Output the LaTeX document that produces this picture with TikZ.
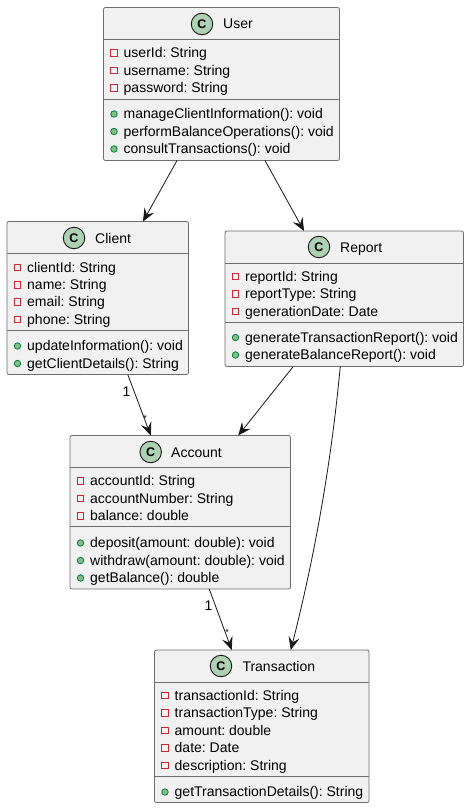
\documentclass[tikz,border=0pt]{standalone}
\usepackage{fontspec}
\setmainfont{Liberation Sans}
\frenchspacing
\usetikzlibrary{arrows.meta}
\definecolor{boxfill}{HTML}{F1F1F1}
\definecolor{ink}{HTML}{181818}
\definecolor{boxline}{HTML}{6E6E6E}
\definecolor{spot}{HTML}{ADD1B2}
\definecolor{privred}{HTML}{C82930}
\definecolor{pubfill}{HTML}{84BE84}
\definecolor{publine}{HTML}{038048}
\tikzset{
  x=1pt,y=-1pt,
  classbox/.style={draw=boxline,fill=boxfill,line width=0.8pt,rounded corners=2pt,inner sep=0pt,outer sep=0pt,anchor=north west},
  divider/.style={draw=boxline,line width=0.8pt},
  spotc/.style={circle,draw=ink,fill=spot,line width=0.9pt,minimum size=21.5pt,inner sep=0pt,font=\fontsize{12.5pt}{14pt}\selectfont\bfseries,text=black},
  title/.style={anchor=base west,inner sep=0pt,font=\fontsize{14pt}{16pt}\selectfont,text=black},
  member/.style={anchor=base west,inner sep=0pt,font=\fontsize{14pt}{16pt}\selectfont,text=black},
  privicon/.style={draw=privred,fill=none,line width=0.8pt,minimum size=6.5pt,inner sep=0pt},
  pubicon/.style={circle,draw=publine,fill=pubfill,line width=0.8pt,minimum size=6.5pt,inner sep=0pt},
  rel/.style={draw=ink,line width=0.8pt,-{Stealth[length=13pt,width=11pt,inset=5pt]}},
  tag/.style={inner sep=0pt,font=\fontsize{14pt}{16pt}\selectfont,text=black},
  startag/.style={inner sep=0pt,font=\fontsize{9pt}{10pt}\selectfont,text=black},
}
\newcommand{\cbox}[5]{% name, x1,y1,x2,y2
  \node[classbox,minimum width=#4-#2,minimum height=#5-#3] (#1) at (#2,#3) {};}
\newcommand{\priv}[3]{% left x, y, text
  \node[privicon] at (#1+10.5,#2) {};
  \node[member] at (#1+20,#2+4.5) {#3};}
\newcommand{\pub}[3]{%
  \node[pubicon] at (#1+10.5,#2) {};
  \node[member] at (#1+20,#2+4.5) {#3};}
\begin{document}
\begin{tikzpicture}
\useasboundingbox (0,0) rectangle (469,808);
\fill[white] (0,0) rectangle (469,808);

% User
\cbox{user}{103.5}{7.5}{339.5}{160.5}
\draw[divider] (103.5,39.5) -- (339.5,39.5);
\draw[divider] (103.5,99.5) -- (339.5,99.5);
\node[spotc] (userspot) at (202,24) {C};
\node[title] (usertitle) at (223,29) {User};
\priv{103.5}{53}{userId: String}
\priv{103.5}{70.5}{username: String}
\priv{103.5}{88}{password: String}
\pub{103.5}{114}{manageClientInformation(): void}
\pub{103.5}{131.5}{performBalanceOperations(): void}
\pub{103.5}{149}{consultTransactions(): void}

% Client
\cbox{client}{7}{221.5}{188.5}{374.5}
\draw[divider] (7,253.5) -- (188.5,253.5);
\draw[divider] (7,330) -- (188.5,330);
\node[spotc] (clientspot) at (74,238) {C};
\node[title] (clienttitle) at (95,243) {Client};
\priv{7}{267.5}{clientId: String}
\priv{7}{285}{name: String}
\priv{7}{302}{email: String}
\priv{7}{319.5}{phone: String}
\pub{7}{346}{updateInformation(): void}
\pub{7}{363.5}{getClientDetails(): String}

% Report
\cbox{report}{225}{231}{463.5}{366.5}
\draw[divider] (225,263) -- (463.5,263);
\draw[divider] (225,322) -- (463.5,322);
\node[spotc] (reportspot) at (319,247) {C};
\node[title] (reporttitle) at (340,252) {Report};
\priv{225}{276.5}{reportId: String}
\priv{225}{294}{reportType: String}
\priv{225}{311.5}{generationDate: Date}
\pub{225}{337.5}{generateTransactionReport(): void}
\pub{225}{355}{generateBalanceReport(): void}

% Account
\cbox{account}{70}{435.5}{290.5}{589}
\draw[divider] (70,467.5) -- (290.5,467.5);
\draw[divider] (70,526.5) -- (290.5,526.5);
\node[spotc] (accountspot) at (150.7,452) {C};
\node[title] (accounttitle) at (171,457) {Account};
\priv{70}{481}{accountId: String}
\priv{70}{498.5}{accountNumber: String}
\priv{70}{516}{balance: double}
\pub{70}{543}{deposit(amount: double): void}
\pub{70}{560.5}{withdraw(amount: double): void}
\pub{70}{578}{getBalance(): double}

% Transaction
\cbox{transaction}{154.5}{650}{369}{802.5}
\draw[divider] (154.5,682) -- (369,682);
\draw[divider] (154.5,776.5) -- (369,776.5);
\node[spotc] (transactionspot) at (221,666) {C};
\node[title] (transactiontitle) at (242.3,671) {Transaction};
\priv{154.5}{695.5}{transactionId: String}
\priv{154.5}{713}{transactionType: String}
\priv{154.5}{730.5}{amount: double}
\priv{154.5}{748}{date: Date}
\priv{154.5}{765.5}{description: String}
\pub{154.5}{792}{getTransactionDetails(): String}

% Connectors
\draw[rel] ([xshift=-44.5pt]user.south) -- ([xshift=45.25pt]client.north);
\draw[rel] ([xshift=43.5pt]user.south) -- ([xshift=-40.25pt]report.north);
\draw[rel] ([xshift=30pt]client.south) -- ([xshift=-29.5pt]account.north);
\draw[rel] ([xshift=-51pt]report.south) -- ([xshift=58pt]account.north);
\draw[rel] ([xshift=-4pt]report.south) .. controls (331.5,461) and (315,555) .. ([xshift=29pt]transaction.north);
\draw[rel] ([xshift=29pt]account.south) -- ([xshift=-30pt]transaction.north);
\node[tag] (one1) at (126.5,391.5) {1};
\node[startag] (star1) at (145,418.7) {*};
\node[tag] (one2) at (208.5,605.5) {1};
\node[startag] (star2) at (227,632.8) {*};
\end{tikzpicture}
\end{document}
